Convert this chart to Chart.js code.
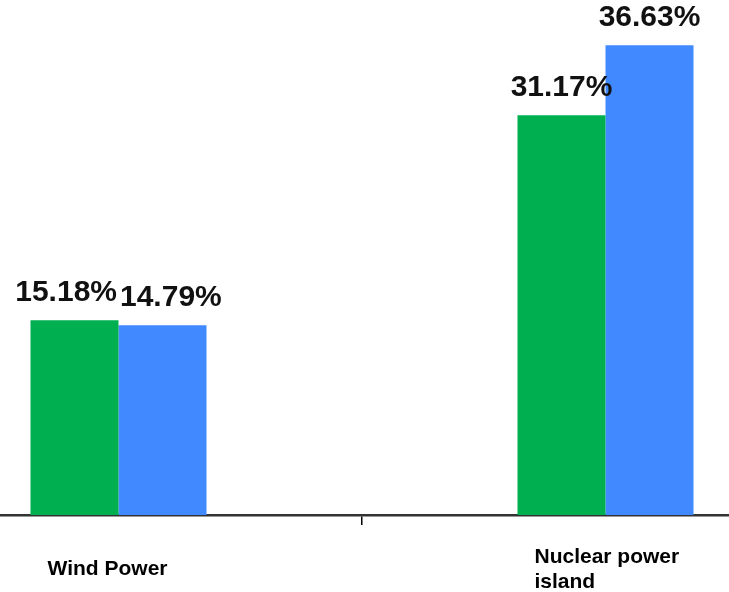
<!DOCTYPE html>
<html>
<head>
<meta charset="utf-8">
<script src="https://cdn.jsdelivr.net/npm/chart.js@4/dist/chart.umd.min.js"></script>
<style>
  html, body { margin: 0; padding: 0; background: #fff; overflow: hidden; }
  #frame { position: relative; width: 729px; height: 592px; overflow: hidden; }
  /* the plot runs past the left and right edges of the frame */
  #plot { position: absolute; left: -125px; top: 0; width: 974px; height: 592px; }
</style>
</head>
<body>
<div id="frame"><div id="plot"><canvas id="c"></canvas></div></div>
<script>
// Categories and shares (%) for the two series
const categories = [["Wind Power"], ["Nuclear power", "island"]];
const seriesA = [15.18, 31.17];
const seriesB = [14.79, 36.63];
const seriesColors = ["#00B050", "#4189FF"];

const labelFont = "bold 30px 'Liberation Sans', Arial, sans-serif";
const categoryFont = "bold 21px 'Liberation Sans', Arial, sans-serif";

// Value labels above bars, pushed apart when neighbours collide
const valueLabels = {
  id: "valueLabels",
  afterDatasetsDraw(chart) {
    const ctx = chart.ctx;
    ctx.save();
    ctx.font = labelFont;
    ctx.fillStyle = "#111";
    ctx.textAlign = "center";
    ctx.textBaseline = "alphabetic";
    const n = chart.data.labels.length;
    for (let i = 0; i < n; i++) {
      const boxes = chart.data.datasets.map((ds, d) => {
        const el = chart.getDatasetMeta(d).data[i];
        const text = ds.data[i].toFixed(2) + "%";
        const w = ctx.measureText(text).width;
        const base = el.y - 19;
        return { text, cx: el.x, w, base, top: base - 22 };
      });
      for (let a = 0; a < boxes.length - 1; a++) {
        const l = boxes[a], r = boxes[a + 1];
        const vOverlap = !(l.base < r.top || r.base < l.top);
        const overlap = (l.cx + l.w / 2) - (r.cx - r.w / 2) + 3;
        if (vOverlap && overlap > 0) {
          l.cx -= overlap / 2;
          r.cx += overlap / 2;
        }
      }
      boxes.forEach(b => ctx.fillText(b.text, b.cx, b.base));
    }
    ctx.restore();
  }
};

// Category names under the axis, left-aligned a fixed distance before the category centre
const categoryLabels = {
  id: "categoryLabels",
  afterDraw(chart) {
    const ctx = chart.ctx;
    const xs = chart.scales.x;
    ctx.save();
    ctx.font = categoryFont;
    ctx.fillStyle = "#000";
    ctx.textAlign = "left";
    ctx.textBaseline = "alphabetic";
    const lineH = 25;
    const indent = 71;
    const mid = chart.chartArea.bottom + 52.5;
    categories.forEach((lines, i) => {
      const left = xs.getPixelForValue(i) - indent;
      const firstBase = mid + 7.5 - (lines.length - 1) * lineH / 2;
      lines.forEach((t, k) => ctx.fillText(t, left, firstBase + k * lineH));
    });
    ctx.restore();
  }
};

new Chart(document.getElementById("c"), {
  type: "bar",
  data: {
    labels: categories.map(l => l.join(" ")),
    datasets: [
      { label: "A", data: seriesA, backgroundColor: seriesColors[0] },
      { label: "B", data: seriesB, backgroundColor: seriesColors[1] }
    ]
  },
  options: {
    responsive: true,
    maintainAspectRatio: false,
    animation: false,
    layout: { padding: { top: 2, left: 0, right: 0, bottom: 0 } },
    datasets: { bar: { categoryPercentage: 0.3614, barPercentage: 1, borderWidth: 0 } },
    plugins: { legend: { display: false }, tooltip: { enabled: false } },
    scales: {
      x: {
        offset: true,
        grid: {
          offset: true,
          drawOnChartArea: false,
          drawTicks: true,
          tickLength: 10,
          color: "#000",
          lineWidth: 1.5
        },
        border: { display: true, color: "#333", width: 2.5 },
        ticks: { display: false },
        afterFit(s) { s.height = 77; }
      },
      y: {
        display: false,
        min: 0,
        max: 40
      }
    }
  },
  plugins: [valueLabels, categoryLabels]
});
</script>
</body>
</html>
